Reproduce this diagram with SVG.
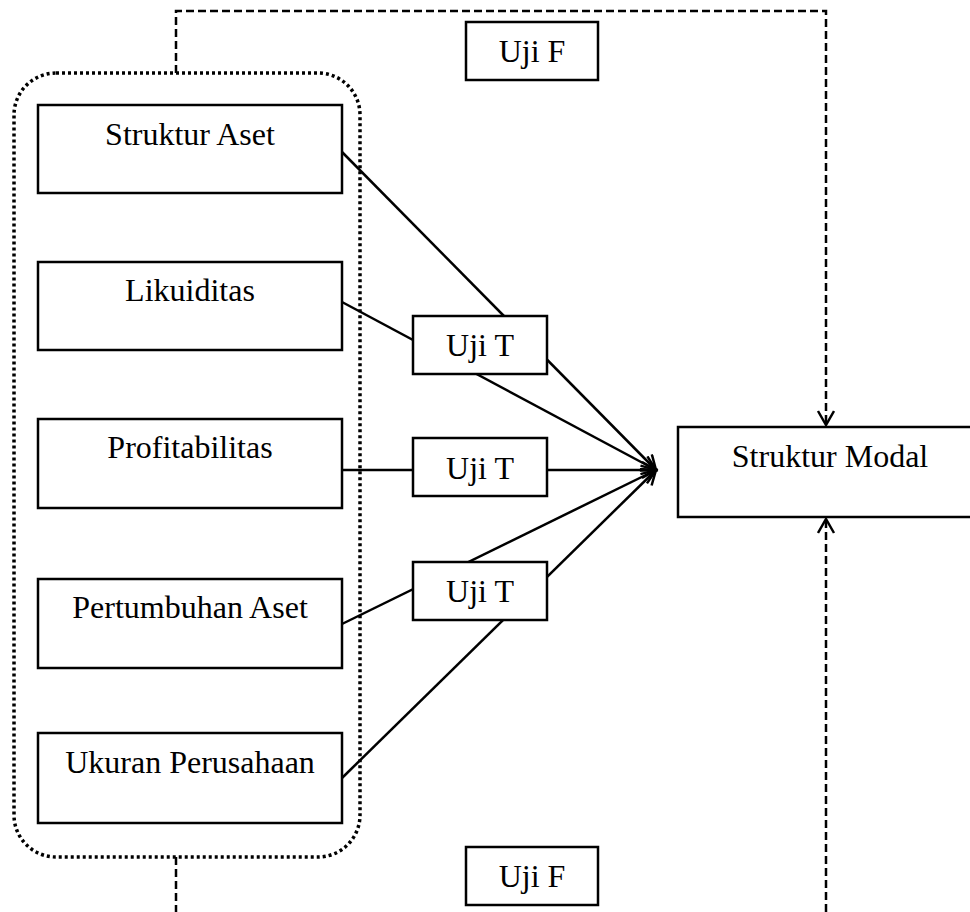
<svg xmlns="http://www.w3.org/2000/svg" width="970" height="912" viewBox="0 0 970 912">
<style>
.box{fill:#fff;stroke:#000;stroke-width:2.5}
.lbl{font-family:"Liberation Serif","Times New Roman",serif;font-size:32px;fill:#000;text-anchor:middle}
.ln{fill:none;stroke:#000;stroke-width:2.5}
.dash{fill:none;stroke:#000;stroke-width:2.5;stroke-dasharray:8 4}
.dot{fill:none;stroke:#000;stroke-width:3.5;stroke-dasharray:3 3}
</style>
<defs>
<marker id="arr" markerUnits="userSpaceOnUse" markerWidth="20" markerHeight="20" refX="15" refY="9" orient="auto">
<path d="M1,1 L15,9 L1,17" fill="none" stroke="#000" stroke-width="2.5"/>
</marker>
</defs>
<rect width="970" height="912" fill="#fff"/>
<g id="group-box">
<rect class="dot" x="14" y="73" width="346" height="784" rx="42" ry="42"/>
</g>
<g id="connectors">
<line class="ln" x1="342" y1="152" x2="656" y2="470" marker-end="url(#arr)"/>
<line class="ln" x1="342" y1="302" x2="656" y2="470" marker-end="url(#arr)"/>
<line class="ln" x1="342" y1="470" x2="656" y2="470" marker-end="url(#arr)"/>
<line class="ln" x1="342" y1="624" x2="656" y2="470" marker-end="url(#arr)"/>
<line class="ln" x1="342" y1="778" x2="656" y2="470" marker-end="url(#arr)"/>
<path class="dash" d="M176,73 V11 H826 V425" marker-end="url(#arr)"/>
<path class="dash" d="M176,857 V912"/>
<path class="dash" d="M826,912 V519" marker-end="url(#arr)"/>
</g>
<g id="struktur-aset"><rect class="box" x="38" y="105" width="304" height="88"/><text class="lbl" x="190" y="145">Struktur Aset</text></g>
<g id="likuiditas"><rect class="box" x="38" y="262" width="304" height="88"/><text class="lbl" x="190" y="301">Likuiditas</text></g>
<g id="profitabilitas"><rect class="box" x="38" y="419" width="304" height="89"/><text class="lbl" x="190" y="458">Profitabilitas</text></g>
<g id="pertumbuhan-aset"><rect class="box" x="38" y="579" width="304" height="89"/><text class="lbl" x="190" y="618">Pertumbuhan Aset</text></g>
<g id="ukuran-perusahaan"><rect class="box" x="38" y="733" width="304" height="90"/><text class="lbl" x="190" y="773">Ukuran Perusahaan</text></g>
<g id="uji-t-1"><rect class="box" x="413" y="316" width="134" height="58"/><text class="lbl" x="480" y="356">Uji T</text></g>
<g id="uji-t-2"><rect class="box" x="413" y="438" width="134" height="58"/><text class="lbl" x="480" y="479">Uji T</text></g>
<g id="uji-t-3"><rect class="box" x="413" y="562" width="134" height="58"/><text class="lbl" x="480" y="602">Uji T</text></g>
<g id="uji-f-top"><rect class="box" x="466" y="22" width="132" height="58"/><text class="lbl" x="532" y="62">Uji F</text></g>
<g id="uji-f-bottom"><rect class="box" x="466" y="847" width="132" height="58"/><text class="lbl" x="532" y="887">Uji F</text></g>
<g id="struktur-modal"><rect class="box" x="678" y="427" width="300" height="90"/><text class="lbl" x="830" y="467">Struktur Modal</text></g>
</svg>
